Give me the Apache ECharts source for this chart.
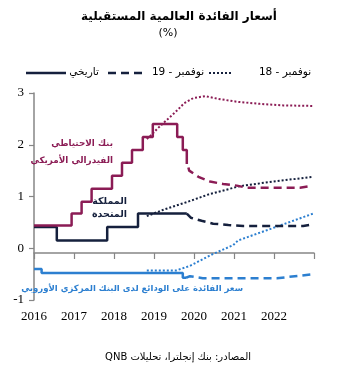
<!DOCTYPE html>
<html>
<head>
<meta charset="utf-8">
<script src="https://cdn.jsdelivr.net/npm/echarts@6/dist/echarts.min.js"></script>
<style>html,body{margin:0;padding:0;background:#fff}#c{width:343px;height:371px}</style>
</head>
<body>
<div id="c"></div>
<script>
// ---- data (x = decimal year, y = %) ----
var yearTicks = [2016, 2017, 2018, 2019, 2020, 2021, 2022];
var fedHistory = [[2016,0.44],[2016.94,0.67],[2017.19,0.9],[2017.44,1.15],[2017.95,1.4],[2018.2,1.65],[2018.45,1.9],[2018.72,2.15],[2018.97,2.4],[2019.58,2.15],[2019.72,1.9],[2019.82,1.63]];
var fedNov19 = [[2019.86,1.56],[2019.88,1.5],[2020.11,1.38],[2020.4,1.29],[2020.73,1.24],[2021.07,1.21],[2021.32,1.17],[2022.0,1.17],[2022.65,1.17],[2022.9,1.2]];
var fedNov18 = [[2018.82,2.11],[2018.95,2.2],[2019.07,2.3],[2019.25,2.43],[2019.45,2.57],[2019.6,2.68],[2019.75,2.8],[2019.98,2.9],[2020.28,2.94],[2020.58,2.89],[2021.08,2.83],[2021.65,2.79],[2022.23,2.76],[2022.98,2.75]];
var ukHistory = [[2016,0.41],[2016.57,0.15],[2017.83,0.41],[2018.6,0.67],[2019.82,0.67]];
var ukNov19 = [[2019.82,0.67],[2019.92,0.59],[2020.19,0.53],[2020.48,0.475],[2020.86,0.45],[2021.23,0.43],[2022.0,0.43],[2022.73,0.43],[2022.98,0.46]];
var ukNov18 = [[2018.82,0.62],[2019.22,0.74],[2019.85,0.9],[2020.4,1.05],[2021.15,1.2],[2021.98,1.29],[2022.98,1.38]];
var ecbHistory = [[2016,-0.4],[2016.19,-0.48],[2019.72,-0.57],[2019.8,-0.57]];
var ecbNov19 = [[2019.8,-0.57],[2019.9,-0.54],[2020.22,-0.58],[2022.07,-0.58],[2022.65,-0.53],[2022.98,-0.5]];
var ecbNov18 = [[2018.82,-0.43],[2019.55,-0.43],[2019.9,-0.34],[2020.45,-0.12],[2020.98,0.06],[2021.1,0.15],[2021.9,0.37],[2022.98,0.67]];

var FED = '#8B1C55', UK = '#15203D', ECB = '#2C7FD0';
var AR = 'DejaVu Sans';
var DASH = [8, 5], DOT = [2, 2];

function line(data, color, type, width, z, step) {
  var s = { type: 'line', data: data, showSymbol: false, symbol: 'none', silent: true, z: z,
    lineStyle: { color: color, width: width, type: type } };
  if (step) s.step = 'end';
  return s;
}
function txt(text, x, y, opts) {
  opts = opts || {};
  return { type: 'text', x: x, y: y, silent: true, z: 100,
    style: { text: text, fill: opts.color || '#000', fontFamily: AR,
      fontSize: opts.size || 11, fontWeight: opts.bold ? 'bold' : 'normal',
      align: opts.align || 'center', verticalAlign: 'middle',
      textAlign: opts.align || 'center', textVerticalAlign: 'middle', lineHeight: opts.lh || 14 } };
}
function seg(x1, x2, y, dash, width) {
  return { type: 'line', silent: true, z: 100, shape: { x1: x1, y1: y, x2: x2, y2: y },
    style: { stroke: UK, lineWidth: width, lineDash: dash || null } };
}

var chart = echarts.init(document.getElementById('c'), null, { renderer: 'canvas' });
chart.setOption({
  animation: false,
  backgroundColor: '#fff',
  grid: { left: 34, right: 29, top: 93, bottom: 71 },
  xAxis: {
    type: 'value', min: 2016, max: 2023, interval: 1, position: 'bottom', offset: -47,
    axisLine: { show: true, onZero: false, lineStyle: { color: '#868686', width: 1.5 } },
    axisTick: { show: true, length: 6, lineStyle: { color: '#868686', width: 1.2 } },
    splitLine: { show: false },
    axisLabel: { margin: 57, fontFamily: 'Liberation Serif', fontSize: 13, color: '#000',
      formatter: function (v) { return yearTicks.indexOf(v) >= 0 ? String(v) : ''; } }
  },
  yAxis: {
    type: 'value', min: -1, max: 3, interval: 1,
    axisLine: { show: true, onZero: false, lineStyle: { color: '#868686', width: 1.5 } },
    axisTick: { show: true, length: 5, lineStyle: { color: '#868686', width: 1.2 } },
    splitLine: { show: false },
    axisLabel: { margin: 10, fontFamily: 'Liberation Serif', fontSize: 13, color: '#000' }
  },
  series: [
    line(fedNov18, FED, DOT, 2, 2),
    line(ukNov18, UK, DOT, 2, 2),
    line(ecbNov18, ECB, DOT, 2, 2),
    line(fedNov19, FED, DASH, 2.5, 3),
    line(ukNov19, UK, DASH, 2.5, 3),
    line(ecbNov19, ECB, DASH, 2.5, 3),
    line(ukHistory, UK, 'solid', 2.5, 4, true),
    line(fedHistory, FED, 'solid', 2.5, 5, true),
    line(ecbHistory, ECB, 'solid', 2.5, 4, true)
  ],
  graphic: [
    txt('أسعار الفائدة العالمية المستقبلية', 179, 17, { bold: true, size: 12 }),
    txt('(%)', 168, 33, { size: 11 }),
    seg(26, 66, 73, null, 2.5),
    txt('تاريخي', 84, 72, { size: 10.5 }),
    seg(108, 145, 73, DASH, 2.5),
    txt('نوفمبر - 19', 178, 72, { size: 10.5 }),
    seg(209, 233, 73, DOT, 2),
    txt('نوفمبر - 18', 285, 72, { size: 10.5 }),
    txt('بنك الاحتياطي\nالفيدرالي الأمريكي', 113, 152, { bold: true, size: 8.8, color: FED, align: 'right', lh: 17 }),
    txt('المملكة\nالمتحدة', 127, 208, { bold: true, size: 9.5, color: UK, align: 'right', lh: 13 }),
    txt('سعر الفائدة على الودائع لدى البنك المركزي الأوروبي', 243, 289, { bold: true, size: 8.5, color: ECB, align: 'right' }),
    txt('\u202Bالمصادر: بنك إنجلترا، تحليلات QNB\u202C', 178, 357, { size: 10 })
  ]
});
</script>
</body>
</html>
